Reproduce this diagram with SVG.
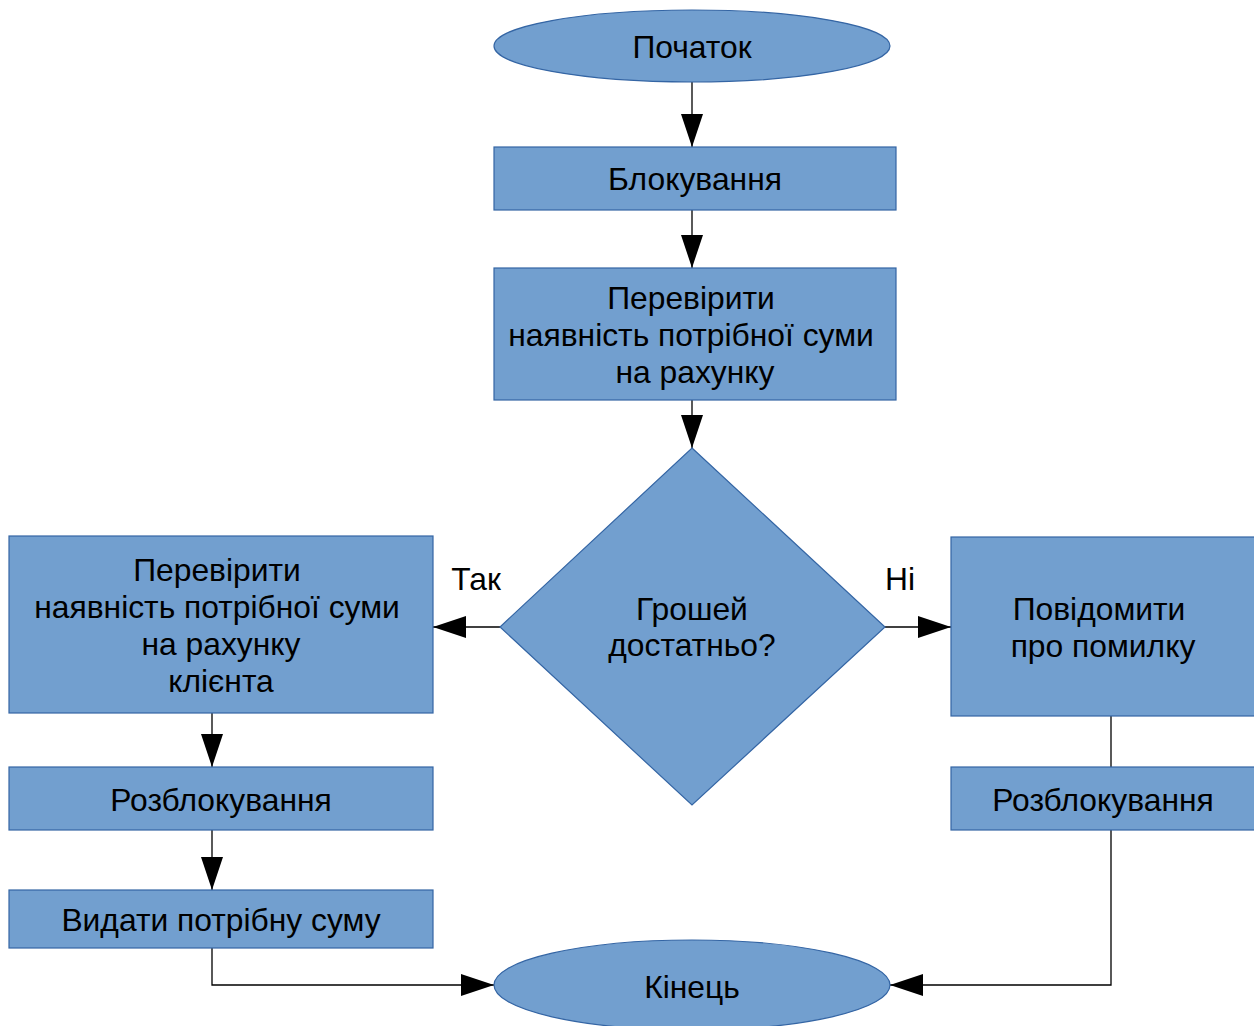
<svg xmlns="http://www.w3.org/2000/svg" width="1254" height="1026" viewBox="0 0 1254 1026">
  <defs>
    <style>
      .shape { fill: #729fcf; stroke: #3465a4; stroke-width: 1.2; }
      .label { font-family: "Liberation Sans", Arial, sans-serif; font-size: 31.8px; fill: #000; text-anchor: middle; dominant-baseline: central; }
      .edge { fill: none; stroke: #000; stroke-width: 1.3; }
    </style>
    <marker id="arrow" viewBox="0 0 33 22" refX="33" refY="11" markerWidth="33" markerHeight="22" markerUnits="userSpaceOnUse" orient="auto">
      <path d="M0,0 L33,11 L0,22 Z" fill="#000"/>
    </marker>
  </defs>
  <rect width="1254" height="1026" fill="#fff"/>

  <g id="connectors">
    <path class="edge" d="M692,82 V147" marker-end="url(#arrow)"/>
    <path class="edge" d="M692,210 V268" marker-end="url(#arrow)"/>
    <path class="edge" d="M692,400 V448" marker-end="url(#arrow)"/>
    <path class="edge" d="M500,627 H433" marker-end="url(#arrow)"/>
    <path class="edge" d="M885,627 H951" marker-end="url(#arrow)"/>
    <path class="edge" d="M212,713 V767" marker-end="url(#arrow)"/>
    <path class="edge" d="M212,830 V890" marker-end="url(#arrow)"/>
    <path class="edge" d="M212,948 V985 H494" marker-end="url(#arrow)"/>
    <path class="edge" d="M1111,716 V767"/>
    <path class="edge" d="M1111,830 V985 H890" marker-end="url(#arrow)"/>
    <text class="label" x="476" y="579">Так</text>
    <text class="label" x="900" y="579">Ні</text>
  </g>

  <g id="start">
    <ellipse class="shape" cx="692" cy="46" rx="198" ry="36"/>
    <text class="label" x="692" y="47">Початок</text>
  </g>

  <g id="lock">
    <rect class="shape" x="494" y="147" width="402" height="63"/>
    <text class="label" x="695" y="179">Блокування</text>
  </g>

  <g id="check-balance">
    <rect class="shape" x="494" y="268" width="402" height="132"/>
    <text class="label" x="691" y="298">Перевірити</text>
    <text class="label" x="691" y="335">наявність потрібної суми</text>
    <text class="label" x="695" y="372">на рахунку</text>
  </g>

  <g id="enough">
    <polygon class="shape" points="692,448 885,627 692,805 500,627"/>
    <text class="label" x="692" y="609">Грошей</text>
    <text class="label" x="692" y="645">достатньо?</text>
  </g>

  <g id="check-client">
    <rect class="shape" x="9" y="536" width="424" height="177"/>
    <text class="label" x="217" y="570">Перевірити</text>
    <text class="label" x="217" y="607">наявність потрібної суми</text>
    <text class="label" x="221" y="644">на рахунку</text>
    <text class="label" x="221" y="681">клієнта</text>
  </g>

  <g id="unlock-left">
    <rect class="shape" x="9" y="767" width="424" height="63"/>
    <text class="label" x="221" y="800">Розблокування</text>
  </g>

  <g id="dispense">
    <rect class="shape" x="9" y="890" width="424" height="58"/>
    <text class="label" x="221" y="920">Видати потрібну суму</text>
  </g>

  <g id="report-error">
    <rect class="shape" x="951" y="537" width="310" height="179"/>
    <text class="label" x="1099" y="609">Повідомити</text>
    <text class="label" x="1103" y="646">про помилку</text>
  </g>

  <g id="unlock-right">
    <rect class="shape" x="951" y="767" width="310" height="63"/>
    <text class="label" x="1103" y="800">Розблокування</text>
  </g>

  <g id="end">
    <ellipse class="shape" cx="692" cy="985" rx="198" ry="45"/>
    <text class="label" x="692" y="987">Кінець</text>
  </g>
</svg>
